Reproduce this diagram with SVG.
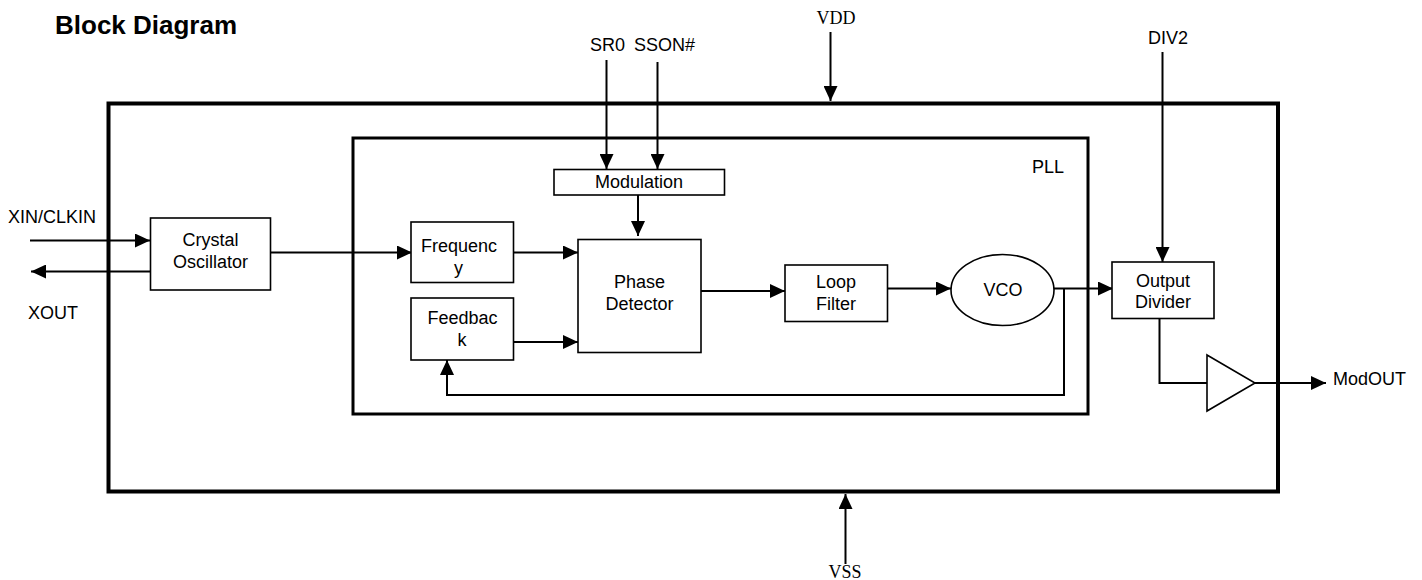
<svg xmlns="http://www.w3.org/2000/svg" width="1422" height="580" viewBox="0 0 1422 580">
<style>
text{font-family:"Liberation Sans",Arial,sans-serif;font-size:18px;fill:#000}
.serif{font-family:"Liberation Serif","Times New Roman",serif}
.title{font-weight:bold;font-size:26px}
.c{text-anchor:middle}
.box{fill:#fff;stroke:#000;stroke-width:1.6}
.big{fill:none;stroke:#000}
.w{fill:none;stroke:#000;stroke-width:2}
</style>
<defs>
<marker id="ah" markerUnits="userSpaceOnUse" markerWidth="15" markerHeight="14" refX="15" refY="7" orient="auto">
<path d="M0,0 L15,7 L0,14 z" fill="#000"/>
</marker>
</defs>
<rect width="1422" height="580" fill="#fff"/>
<text class="title" x="55" y="34">Block Diagram</text>

<g id="chip"><rect class="big" x="108.5" y="103.5" width="1169.5" height="388" stroke-width="4"/></g>
<g id="pll"><rect class="big" x="353" y="138" width="735" height="276" stroke-width="3"/>
<text x="1032" y="173">PLL</text></g>

<g id="connectors">
<line class="w" x1="830.5" y1="32" x2="830.5" y2="101" marker-end="url(#ah)"/>
<line class="w" x1="845.5" y1="564" x2="845.5" y2="494" marker-end="url(#ah)"/>
<line class="w" x1="606.5" y1="60" x2="606.5" y2="169" marker-end="url(#ah)"/>
<line class="w" x1="657.5" y1="62" x2="657.5" y2="169" marker-end="url(#ah)"/>
<line class="w" x1="638" y1="195" x2="638" y2="236" marker-end="url(#ah)"/>
<line class="w" x1="30" y1="240.5" x2="150" y2="240.5" marker-end="url(#ah)"/>
<line class="w" x1="150" y1="271.5" x2="31" y2="271.5" marker-end="url(#ah)"/>
<line class="w" x1="270" y1="252.5" x2="412" y2="252.5" marker-end="url(#ah)"/>
<line class="w" x1="513" y1="252.5" x2="578" y2="252.5" marker-end="url(#ah)"/>
<line class="w" x1="513" y1="342" x2="578" y2="342" marker-end="url(#ah)"/>
<line class="w" x1="701" y1="291" x2="785" y2="291" marker-end="url(#ah)"/>
<line class="w" x1="887" y1="288.5" x2="951" y2="288.5" marker-end="url(#ah)"/>
<line class="w" x1="1054" y1="288.5" x2="1113" y2="288.5" marker-end="url(#ah)"/>
<polyline class="w" points="1064,288.5 1064,395 447,395 447,360" marker-end="url(#ah)"/>
<line class="w" x1="1162.5" y1="52" x2="1162.5" y2="262" marker-end="url(#ah)"/>
<polyline class="w" points="1159.5,318 1159.5,383 1207,383"/>
<line class="w" x1="1255" y1="383" x2="1326" y2="383" marker-end="url(#ah)"/>
</g>

<text class="serif c" x="836" y="24">VDD</text>
<text class="serif c" x="845" y="578">VSS</text>
<text x="590" y="50.5">SR0</text>
<text x="634" y="50.5">SSON#</text>
<text class="c" x="1168" y="44">DIV2</text>
<text x="8" y="223">XIN/CLKIN</text>
<text x="28" y="319">XOUT</text>
<text x="1333" y="385">ModOUT</text>

<g id="modulation"><rect class="box" x="554" y="169.5" width="170.5" height="25.5"/>
<text class="c" x="639" y="188">Modulation</text></g>
<g id="crystal"><rect class="box" x="150.5" y="218" width="120" height="72"/>
<text class="c" x="210.5" y="246">Crystal</text><text class="c" x="210.5" y="268">Oscillator</text></g>
<g id="frequency"><rect class="box" x="411" y="222" width="102.5" height="60.5"/>
<text class="c" x="459" y="252">Frequenc</text><text class="c" x="458.5" y="274">y</text></g>
<g id="feedback"><rect class="box" x="411" y="298" width="102.5" height="62"/>
<text class="c" x="462.5" y="324">Feedbac</text><text class="c" x="462" y="346">k</text></g>
<g id="phase"><rect class="box" x="578" y="239.5" width="123" height="113"/>
<text class="c" x="639.5" y="288">Phase</text><text class="c" x="639.5" y="310">Detector</text></g>
<g id="loopfilter"><rect class="box" x="785" y="265" width="102.5" height="56.5"/>
<text class="c" x="836" y="288">Loop</text><text class="c" x="836" y="310">Filter</text></g>
<g id="vco"><ellipse cx="1002.5" cy="290" rx="51.5" ry="35.5" fill="#fff" stroke="#000" stroke-width="1.6"/>
<text class="c" x="1003" y="296">VCO</text></g>
<g id="outdiv"><rect class="box" x="1112" y="262" width="102" height="56.5"/>
<text class="c" x="1163" y="287">Output</text><text class="c" x="1163" y="307.5">Divider</text></g>
<g id="buffer"><polygon points="1207,355 1255,383 1207,411" fill="#fff" stroke="#000" stroke-width="1.6"/></g>
</svg>
